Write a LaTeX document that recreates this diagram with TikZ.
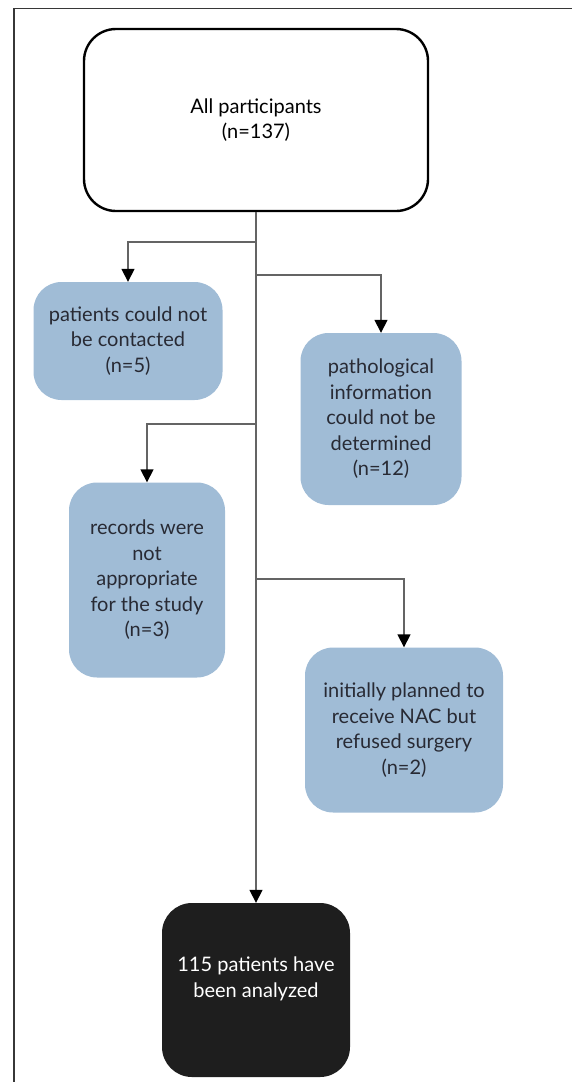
\documentclass[tikz,border=0pt]{standalone}
\usepackage{fontspec}
\setmainfont{Lato}
\usetikzlibrary{arrows.meta}
\definecolor{boxblue}{RGB}{160,188,214}
\definecolor{boxtext}{RGB}{40,42,52}
\definecolor{linegray}{RGB}{100,100,100}
\definecolor{framegray}{RGB}{55,55,55}
\definecolor{darkbox}{RGB}{30,30,30}
\begin{document}
\begin{tikzpicture}[x=1pt,y=-1pt,
  every node/.style={font=\fontsize{20}{25.5}\selectfont, align=center, inner sep=0pt},
  topbox/.style={draw=black, line width=2.4pt, fill=white, rounded corners=32pt, minimum width=344pt, minimum height=182pt},
  bluebox/.style={fill=boxblue, text=boxtext, rounded corners=28pt},
  blackbox/.style={fill=darkbox, text=white, rounded corners=30pt, minimum width=188pt, minimum height=174pt},
  conn/.style={draw=linegray, line width=1.6pt, -{Triangle[width=13pt,length=13pt,color=black]}}
]
\useasboundingbox (0,0) rectangle (572,1082);
\draw[framegray, line width=1.5pt] (572,8.5) -- (14,8.5) -- (14,1082);

\node[topbox] (top) at (256,120) {All participants\\(n=137)};
\node[bluebox, minimum width=189pt, minimum height=118pt] (b1) at (128,341) {patients could not\\be contacted\\(n=5)};
\node[bluebox, minimum width=161pt, minimum height=172pt] (b2) at (381,419) {pathological\\information\\could not be\\determined\\(n=12)};
\node[bluebox, minimum width=156pt, minimum height=195pt] (b3) at (147,580) {records were\\not\\appropriate\\for the study\\(n=3)};
\node[bluebox, minimum width=198pt, minimum height=165pt] (b4) at (404,730) {initially planned to\\receive NAC but\\refused surgery\\(n=2)};
\node[blackbox] (fin) at (256,990) {115 patients have\\been analyzed\\\mbox{}};

\coordinate (j1) at (256,242);
\coordinate (j2) at (256,275);
\coordinate (j3) at (256,424);
\coordinate (j4) at (256,579);

\draw[conn] (top.south) -- (fin.north);
\draw[conn] (j1) -| (b1.north);
\draw[conn] (j2) -| (b2.north);
\draw[conn] (j3) -| (b3.north);
\draw[conn] (j4) -| (b4.north);
\end{tikzpicture}
\end{document}
